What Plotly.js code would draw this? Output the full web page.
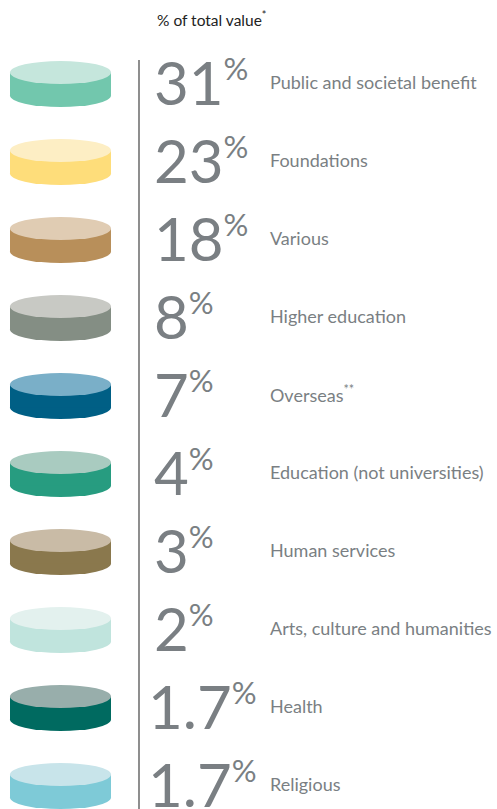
<!DOCTYPE html>
<html>
<head>
<meta charset="utf-8">
<script src="https://cdn.plot.ly/plotly-3.0.1.min.js"></script>
<style>html,body{margin:0;padding:0;background:#fff;}#chart{width:497px;height:809px;}</style>
</head>
<body>
<div id="chart"></div>
<script>
// ---- data ----
const categories = ["Public and societal benefit","Foundations","Various","Higher education","Overseas<sup>**</sup>","Education (not universities)","Human services","Arts, culture and humanities","Health","Religious"];
const values = [31, 23, 18, 8, 7, 4, 3, 2, 1.7, 1.7];
const valueLabels = ["31","23","18","8","7","4","3","2","1.7","1.7"];
const topColors = ["#c5e6dc","#fdeec4","#e0ccb3","#c8c9c4","#7aafc8","#a9cbc0","#c9bba6","#e3f1ee","#98aeab","#c8e4ea"];
const sideColors = ["#72c7ad","#fedd7a","#b88f5a","#848e84","#005f85","#279c80","#8a784d","#c0e4dd","#006a60","#7ecad7"];
const titleText = "% of total value<sup>*</sup>";

// ---- layout geometry ----
const W = 497, H = 809;
const rowStep = 78, firstRow = 72.5;
const cx = 60.5, rx = 50.5, ry = 11.5, depth = 23;
const grey = "#7a7f83";
const fam = "Lato, 'Open Sans', sans-serif";

const shapes = [];
const annotations = [];
categories.forEach((c, i) => {
  const yc = firstRow + rowStep * i;
  shapes.push({type:"circle", xref:"x", yref:"y", x0:cx-rx, x1:cx+rx, y0:yc+depth-ry, y1:yc+depth+ry,
               fillcolor:sideColors[i], line:{width:0}});
  shapes.push({type:"rect", xref:"x", yref:"y", x0:cx-rx, x1:cx+rx, y0:yc, y1:yc+depth,
               fillcolor:sideColors[i], line:{width:0}});
  shapes.push({type:"circle", xref:"x", yref:"y", x0:cx-rx, x1:cx+rx, y0:yc-ry, y1:yc+ry,
               fillcolor:topColors[i], line:{width:0}});
  const numX = valueLabels[i].length > 2 ? 146 : 152;
  annotations.push({xref:"x", yref:"y", x:numX, y:yc+9, xanchor:"left", yanchor:"middle", showarrow:false,
    text: valueLabels[i] + '<sup><span style="font-size:31px">%</span></sup>',
    font:{family:fam, size:60, color:grey}});
  annotations.push({xref:"x", yref:"y", x:268, y:yc+9.5, xanchor:"left", yanchor:"middle", showarrow:false,
    text: c, font:{family:fam, size:18, color:grey}});
});
shapes.push({type:"line", xref:"x", yref:"y", x0:139, x1:139, y0:60, y1:H, line:{color:"#444", width:1.2}});
annotations.push({xref:"x", yref:"y", x:155, y:18, xanchor:"left", yanchor:"middle", showarrow:false,
  text:titleText, font:{family:fam, size:15.5, color:"#222"}});

const layout = {
  width:W, height:H, margin:{l:0,r:0,t:0,b:0},
  paper_bgcolor:"#fff", plot_bgcolor:"#fff",
  xaxis:{range:[0,W], visible:false, fixedrange:true},
  yaxis:{range:[H,0], visible:false, fixedrange:true},
  showlegend:false, shapes:shapes, annotations:annotations
};
const trace = {type:"scatter", mode:"markers", x:values.map(()=>cx), y:values.map((v,i)=>firstRow+rowStep*i),
  marker:{opacity:0}, hoverinfo:"skip", customdata:values};
Plotly.newPlot("chart", [trace], layout, {staticPlot:true, displayModeBar:false});
</script>
</body>
</html>
